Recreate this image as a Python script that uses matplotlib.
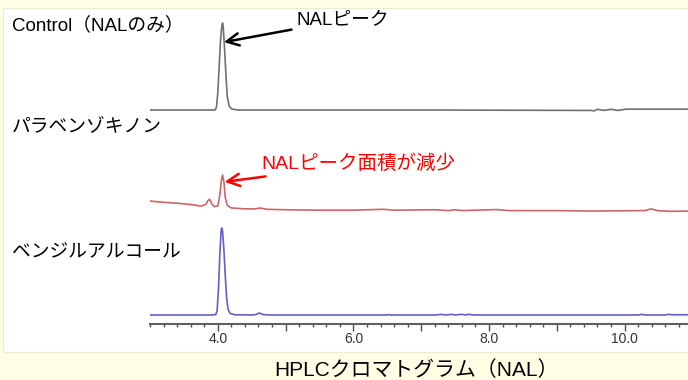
import matplotlib
matplotlib.use("Agg")
import matplotlib.pyplot as plt
from matplotlib.patches import Rectangle
from matplotlib.ticker import MultipleLocator, FixedLocator

FONTS = ['Liberation Sans', 'Noto Sans CJK JP', 'DejaVu Sans']
plt.rcParams['font.family'] = FONTS

# retention time (min) / response (relative, baseline = 0)
control_t = [3.0, 3.5, 3.9, 3.96, 3.98, 4.0, 4.02, 4.04, 4.06, 4.07, 4.08, 4.10, 4.12,
             4.14, 4.17, 4.21, 4.3, 4.6, 7.0, 9.5, 9.55, 9.6, 9.7, 9.8, 9.9, 10.0, 10.05, 10.95]
control_y = [0, 0, 0, 0, 3, 20, 50, 80, 97, 100, 96, 70, 40,
             15, 4, 1, 0, 0, 0, -0.5, -1, 0.8, -0.5, 0.8, -0.5, 0.8, 1.0, 1.0]

pbq_t = [3.0, 3.2, 3.4, 3.6, 3.75, 3.82, 3.86, 3.88, 3.91, 3.95, 4.0, 4.03, 4.05, 4.07,
         4.09, 4.11, 4.14, 4.2, 4.4, 4.55, 4.63, 4.72, 5.0, 5.5, 6.0, 6.44, 6.6, 7.2, 7.4,
         7.5, 7.6, 8.1, 8.3, 9.0, 9.5, 10.3, 10.39, 10.5, 10.7, 10.95]
pbq_y = [8, 6.5, 5.5, 4, 2.3, 4, 9, 10, 5, 1.5, 2.5, 15, 30, 38,
         30, 12, 3, 0, -1, -1, 0, -1.5, -2, -2.5, -2.5, -1.5, -2.5, -2, -3,
         -2, -3, -1.8, -3, -3, -3.5, -3, -1, -3.2, -3.8, -3.5]

bza_t = [3.0, 3.9, 3.97, 3.99, 4.01, 4.03, 4.05, 4.06, 4.07, 4.09, 4.11, 4.13, 4.15, 4.18,
         4.25, 4.5, 4.56, 4.61, 4.67, 4.75, 6.5, 6.52, 6.55, 7.2, 7.3, 7.35, 7.45, 7.5,
         7.6, 7.65, 7.7, 7.78, 10.2, 10.25, 10.3, 10.6, 10.65, 10.7, 10.95]
bza_y = [0, 0, 0.5, 5, 30, 70, 98, 100, 97, 75, 45, 20, 7, 2,
         0.3, 0, 0.5, 2.3, 0.5, 0, 0, 0.6, 0, 0, 0.7, 0, 0.7, 0,
         0.8, 0, 0.8, 0, 0, 0.8, 0, 0, 0.8, 0.3, 0.3]

labels = ['Control（NALのみ）', 'パラベンゾキノン', 'ベンジルアルコール']
tick_pos = [4, 5, 6, 7, 8, 9, 10]
tick_lab = ['4.0', '', '6.0', '', '8.0', '', '10.0']
colors = ['#707070', '#cc6666', '#6060c8']

W, H = 688, 380
fig = plt.figure(figsize=(W / 100, H / 100), dpi=100, facecolor='#ffffe6')
fig.add_artist(Rectangle((3 / W, (H - 352) / H), 685 / W, 344 / H,
                         transform=fig.transFigure, facecolor='white',
                         edgecolor='#ecebd0', lw=0.8, zorder=0))

# axes placed so that baselines sit at 110, 208, 315 px from top
ax_h = 104.4 / H
bottoms = [(H - 118.7) / H, (H - 216.7) / H, (H - 323.7) / H]
left, width = 150 / W, 538 / W
xlim = (3.0, 10.935)

series = [(control_t, control_y), (pbq_t, pbq_y), (bza_t, bza_y)]
axes = []
for (t, y), c, b in zip(series, colors, bottoms):
    ax = fig.add_axes([left, b, width, ax_h])
    ax.patch.set_alpha(0)
    ax.plot(t, y, color=c, lw=1.2)
    ax.set_xlim(*xlim)
    ax.set_ylim(-10, 110)
    for s in ax.spines.values():
        s.set_visible(False)
    ax.set_yticks([])
    ax.set_xticks([])
    axes.append(ax)

ax = axes[2]
ax.spines['bottom'].set_visible(True)
ax.spines['bottom'].set_color('#606060')
ax.spines['bottom'].set_linewidth(1.5)
ax.xaxis.set_major_locator(FixedLocator(tick_pos))
ax.xaxis.set_minor_locator(MultipleLocator(0.2))
ax.set_xticklabels(tick_lab)
ax.tick_params(axis='x', which='major', length=5, width=1, color='#505050',
               labelsize=10, labelcolor='#333333', pad=1)
ax.tick_params(axis='x', which='minor', length=2.5, width=1, color='#505050')

# sample names
for lab, ypix in zip(labels, [25, 127, 253]):
    fig.text(12 / W, (H - ypix) / H, lab, fontsize=13.5, color='black',
             va='center', ha='left')

# peak annotations
axes[0].annotate('NALピーク', xy=(4.09, 78), xycoords='data',
                 xytext=(297, H - 20), textcoords='figure pixels',
                 fontsize=13.5, color='black', va='center', ha='left',
                 arrowprops=dict(arrowstyle='->', color='black', lw=1.8,
                                 mutation_scale=22, shrinkA=2, shrinkB=0))
axes[1].annotate('NALピーク面積が減少', xy=(4.1, 30), xycoords='data',
                 xytext=(261, H - 164), textcoords='figure pixels',
                 fontsize=14, color='#ff0000', va='center', ha='left',
                 arrowprops=dict(arrowstyle='->', color='#ff0000', lw=1.8,
                                 mutation_scale=22, shrinkA=2, shrinkB=0))

fig.text(416 / W, (H - 370) / H, 'HPLCクロマトグラム（NAL）', fontsize=15,
         color='black', ha='center', va='center')

fig.savefig('out.png', dpi=100, facecolor=fig.get_facecolor())
